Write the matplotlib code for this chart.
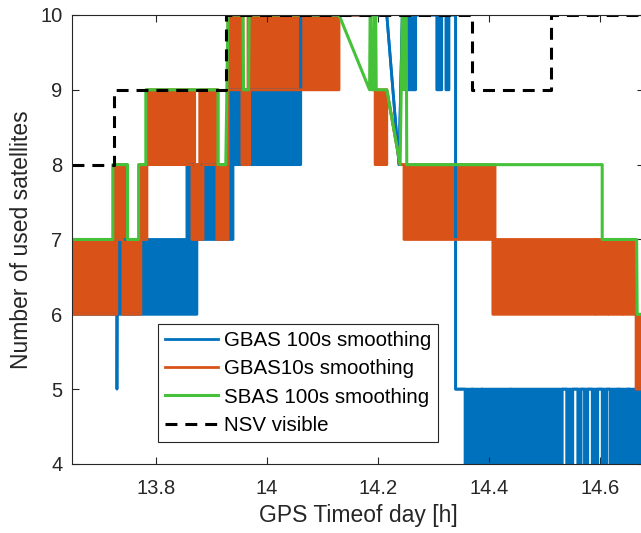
import matplotlib
matplotlib.use('Agg')
import matplotlib.pyplot as plt

# GBAS 100s smoothing: breakpoints with lower / upper envelope (band = fast toggling)
gbas100_t = [13.649, 13.7297, 13.7300, 13.7305, 13.856, 13.856, 13.874, 13.874,
             13.9315, 13.9315, 13.939, 13.939, 14.061, 14.061, 14.216, 14.238, 14.244,
             14.254, 14.254, 14.268, 14.268, 14.306, 14.306, 14.315, 14.315,
             14.3225, 14.3225, 14.328, 14.328, 14.340, 14.340, 14.357, 14.357,
             14.369, 14.369, 14.371, 14.371, 14.387, 14.387, 14.389, 14.389,
             14.438, 14.438, 14.440, 14.440, 14.532, 14.532, 14.540, 14.540,
             14.551, 14.551, 14.560, 14.560, 14.566, 14.566, 14.572, 14.572,
             14.578, 14.578, 14.586, 14.586, 14.596, 14.596, 14.604, 14.604,
             14.612, 14.612, 14.618, 14.618, 14.631, 14.631, 14.636, 14.636,
             14.649, 14.649, 14.654, 14.654, 14.663, 14.663, 14.668, 14.668, 14.68]
gbas100_lo = [6, 6, 5, 6, 6, 6, 6, 7,
              7, 7, 7, 8, 8, 10, 10, 8, 10,
              10, 9, 9, 10, 10, 9, 9, 10,
              10, 9, 9, 10, 10, 5, 5, 4,
              4, 5, 5, 4, 4, 5, 5, 4,
              4, 5, 5, 4, 4, 5, 5, 4,
              4, 5, 5, 4, 4, 5, 5, 4,
              4, 5, 5, 4, 4, 5, 5, 4,
              4, 5, 5, 4, 4, 5, 5, 4,
              4, 5, 5, 4, 4, 5, 5, 4, 4]
gbas100_hi = [7, 7, 7, 7, 7, 8, 8, 8,
              8, 9, 9, 9, 9, 10, 10, 8, 10,
              10, 10, 10, 10, 10, 10, 10, 10,
              10, 10, 10, 10, 10, 5, 5, 5,
              5, 5, 5, 5, 5, 5, 5, 5,
              5, 5, 5, 5, 5, 5, 5, 5,
              5, 5, 5, 5, 5, 5, 5, 5,
              5, 5, 5, 5, 5, 5, 5, 5,
              5, 5, 5, 5, 5, 5, 5, 5,
              5, 5, 5, 5, 5, 5, 5, 5, 5]

# GBAS 10s smoothing
gbas10_t = [13.649, 13.726, 13.726, 13.7297, 13.7297, 13.7405, 13.7405, 13.748, 13.748,
            13.771, 13.771, 13.773, 13.773, 13.784, 13.784, 13.865, 13.865, 13.870, 13.870,
            13.879, 13.879, 13.885, 13.885, 13.910, 13.910, 13.912, 13.912, 13.930, 13.930,
            13.955, 13.955, 13.957, 13.957, 13.966, 13.966, 13.969, 13.969, 14.130, 14.130,
            14.195, 14.195, 14.216, 14.216, 14.240, 14.247, 14.247, 14.407, 14.407,
            14.411, 14.411, 14.591, 14.591, 14.593, 14.593, 14.614, 14.614, 14.616, 14.616,
            14.640, 14.640, 14.642, 14.642, 14.665, 14.665, 14.68]
gbas10_lo = [6, 6, 6, 6, 7, 7, 6, 6, 6,
             6, 6, 6, 7, 7, 8, 8, 7, 7, 7,
             7, 7, 7, 8, 8, 7, 7, 7, 7, 9,
             9, 8, 8, 8, 8, 8, 8, 9, 9, 10,
             10, 8, 8, 9, 8, 8, 7, 7, 6,
             6, 6, 6, 7, 7, 6, 6, 7, 7, 6,
             6, 7, 7, 6, 6, 5, 5]
gbas10_hi = [7, 7, 8, 8, 8, 8, 8, 8, 7,
             7, 8, 8, 8, 8, 9, 9, 9, 9, 8,
             8, 9, 9, 9, 9, 9, 9, 8, 8, 10,
             10, 10, 10, 9, 9, 10, 10, 10, 10, 10,
             10, 9, 9, 9, 8, 8, 8, 8, 8,
             8, 7, 7, 7, 7, 7, 7, 7, 7, 7,
             7, 7, 7, 7, 7, 6, 6]

# SBAS 100s smoothing
sbas_t = [13.649, 13.7225, 13.7225, 13.749, 13.749, 13.769, 13.769, 13.782, 13.782,
          13.912, 13.912, 13.926, 13.930, 13.957, 13.958, 13.967, 13.968, 14.130,
          14.185, 14.186, 14.188, 14.189, 14.193, 14.194, 14.196, 14.197, 14.216,
          14.240, 14.244, 14.246, 14.247, 14.249, 14.251, 14.252, 14.604, 14.604,
          14.666, 14.667, 14.68]
sbas_y = [7, 7, 8, 8, 7, 7, 8, 8, 9,
          9, 8, 8, 10, 10, 9, 9, 10, 10,
          9, 10, 10, 9, 9, 10, 10, 9, 9,
          8, 10, 10, 9, 10, 10, 8, 8, 7,
          7, 6, 6]

# NSV visible
nsv_t = [13.649, 13.724, 13.724, 13.927, 13.927, 14.369, 14.369, 14.512, 14.512, 14.68]
nsv_y = [8, 8, 9, 9, 10, 10, 9, 9, 10, 10]

plt.rcParams['font.family'] = ['Liberation Sans', 'DejaVu Sans']

fig = plt.figure(figsize=(6.41, 5.33), dpi=100)
ax = fig.add_axes([0.1123, 0.1295, 0.893, 0.8424])

c_blue = '#0072BD'
c_orange = '#D95319'
c_green = '#46C23A'

ax.fill_between(gbas100_t, gbas100_lo, gbas100_hi, color=c_blue, lw=0)
ax.plot(gbas100_t, gbas100_lo, color=c_blue, lw=2, label='GBAS 100s smoothing')
ax.plot(gbas100_t, gbas100_hi, color=c_blue, lw=2)

ax.fill_between(gbas10_t, gbas10_lo, gbas10_hi, color=c_orange, lw=0)
ax.plot(gbas10_t, gbas10_lo, color=c_orange, lw=2, label='GBAS10s smoothing')
ax.plot(gbas10_t, gbas10_hi, color=c_orange, lw=2)

ax.plot(sbas_t, sbas_y, color=c_green, lw=2.2, label='SBAS 100s smoothing')
ax.plot(nsv_t, nsv_y, color='black', lw=2.2, linestyle=(0, (3.9, 2.6)), label='NSV visible')

ax.set_xlim(13.649, 14.68)
ax.set_ylim(4, 10)
ax.set_xticks([13.8, 14, 14.2, 14.4, 14.6])
ax.set_xticklabels(['13.8', '14', '14.2', '14.4', '14.6'])
ax.set_yticks([4, 5, 6, 7, 8, 9, 10])

ax.tick_params(direction='in', length=5, width=0.8, colors='#262626', labelsize=14.5,
               top=True, right=True)
ax.tick_params(axis='x', pad=11)
ax.tick_params(axis='y', pad=7)
for s in ax.spines.values():
    s.set_color('#262626')
    s.set_linewidth(0.8)

ax.set_xlabel('GPS Timeof day [h]', fontsize=16.5, color='#262626', labelpad=4)
ax.set_ylabel('Number of used satellites', fontsize=16.5, color='#262626', labelpad=5)

leg = ax.legend(loc='lower left', bbox_to_anchor=(0.150, 0.049), fontsize=14.8,
                frameon=True, fancybox=False, framealpha=1, edgecolor='#262626',
                handlelength=2.6, handletextpad=0.25, labelspacing=0.45, borderpad=0.35,
                borderaxespad=0)
leg.get_frame().set_linewidth(0.8)

plt.savefig('out.png', dpi=100)
